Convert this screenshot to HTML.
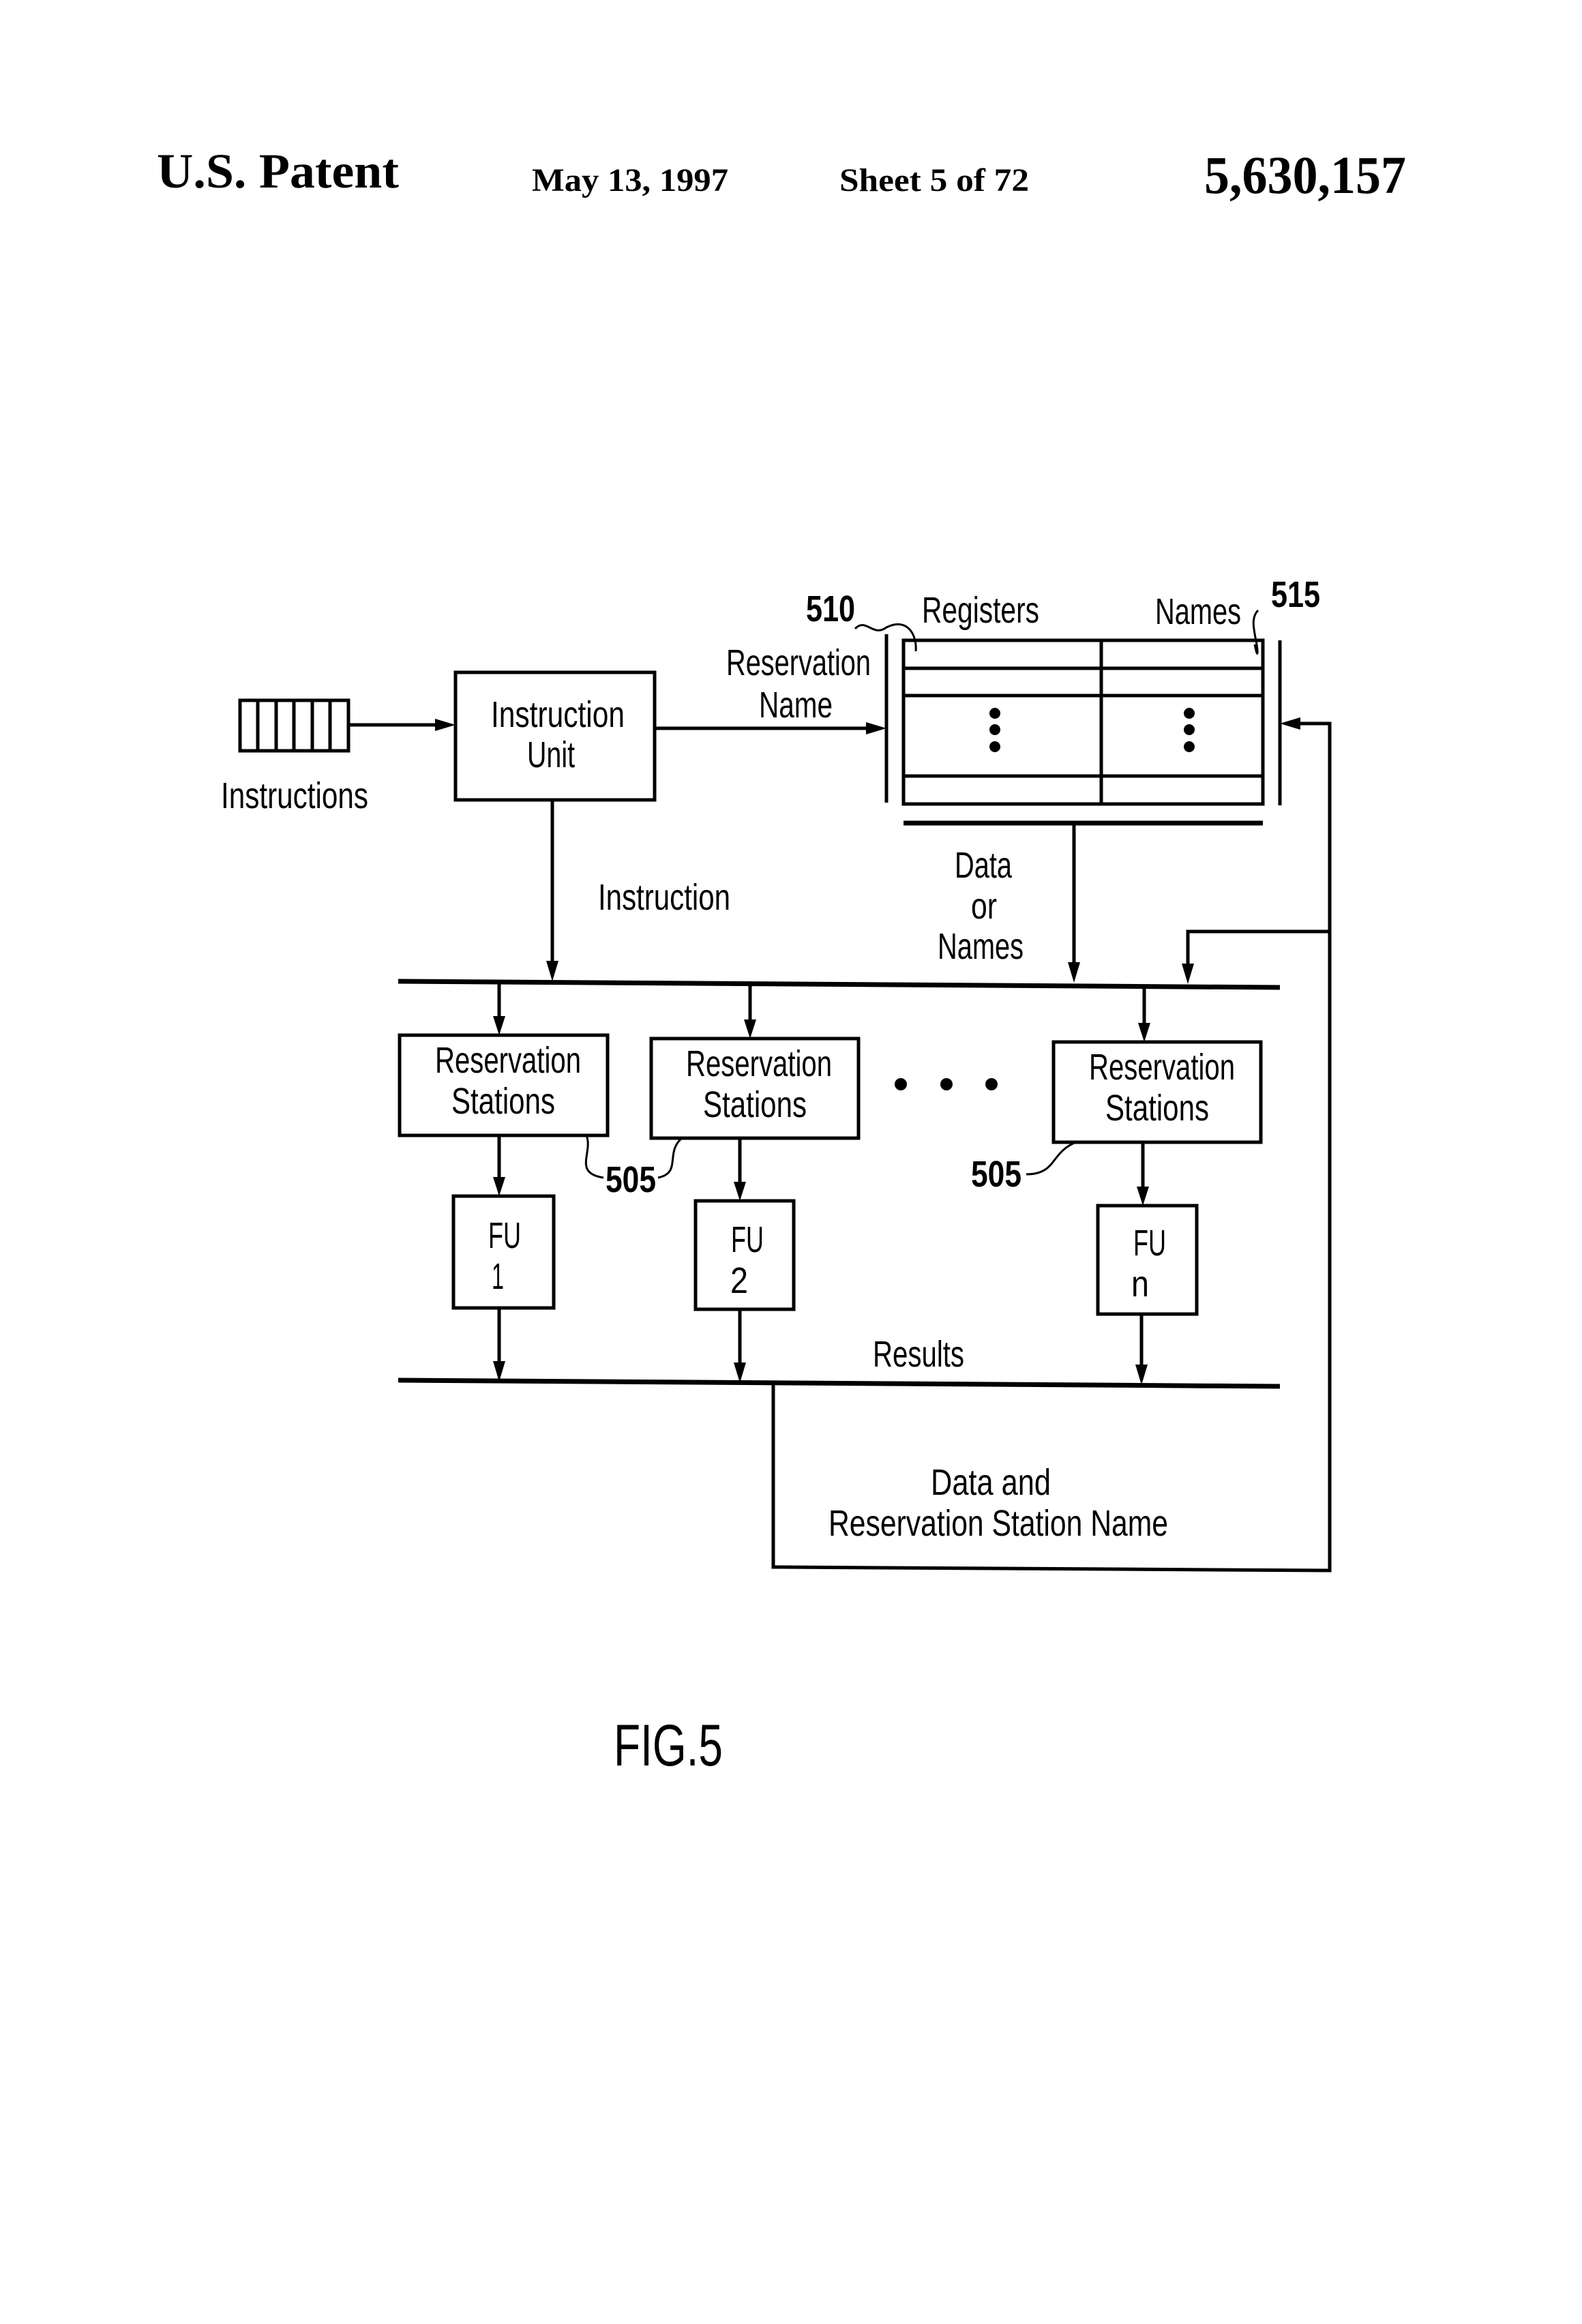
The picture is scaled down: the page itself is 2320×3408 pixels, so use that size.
<!DOCTYPE html>
<html><head><meta charset="utf-8"><style>
html,body{margin:0;padding:0;background:#fff;}
svg{display:block;}
.h{font-family:"Liberation Serif",serif;font-weight:bold;fill:#000;}
.t{font-family:"Liberation Sans",sans-serif;fill:#000;}
</style></head><body>
<svg width="2320" height="3408" viewBox="0 0 2320 3408" xmlns="http://www.w3.org/2000/svg">
<!-- header -->
<text class="h" x="230" y="275" font-size="72" textLength="355" lengthAdjust="spacingAndGlyphs">U.S. Patent</text>
<text class="h" x="780" y="280" font-size="48" textLength="288" lengthAdjust="spacingAndGlyphs">May 13, 1997</text>
<text class="h" x="1231" y="280" font-size="48" textLength="278" lengthAdjust="spacingAndGlyphs">Sheet 5 of 72</text>
<text class="h" x="1766" y="283" font-size="78" textLength="296" lengthAdjust="spacingAndGlyphs">5,630,157</text>

<g stroke="#000" fill="none" stroke-width="5">
<rect x="352" y="1027" width="159" height="74"/>
<line x1="378" y1="1027" x2="378" y2="1101"/>
<line x1="405" y1="1027" x2="405" y2="1101"/>
<line x1="431" y1="1027" x2="431" y2="1101"/>
<line x1="458" y1="1027" x2="458" y2="1101"/>
<line x1="484" y1="1027" x2="484" y2="1101"/>
<line x1="511" y1="1063" x2="650" y2="1063"/>
<rect x="668" y="986" width="292" height="187"/>
<line x1="960" y1="1068" x2="1282" y2="1068"/>
<line x1="1300" y1="930" x2="1300" y2="1177"/>
<line x1="1877" y1="939" x2="1877" y2="1181"/>
<rect x="1325" y="939" width="527" height="240"/>
<line x1="1325" y1="980" x2="1852" y2="980"/>
<line x1="1325" y1="1020" x2="1852" y2="1020"/>
<line x1="1325" y1="1138" x2="1852" y2="1138"/>
<line x1="1615" y1="939" x2="1615" y2="1179"/>
<line x1="1325" y1="1207" x2="1852" y2="1207" stroke-width="7"/>
<polyline points="1895,1061 1950,1061 1950,2303 1134,2298 1134,2030"/>
<polyline points="1950,1366 1742,1366 1742,1425"/>
<line x1="810" y1="1173" x2="810" y2="1420"/>
<line x1="1575" y1="1207" x2="1575" y2="1422"/>
<line x1="584" y1="1439" x2="1877" y2="1448" stroke-width="7"/>
<line x1="732" y1="1440" x2="732" y2="1500"/>
<line x1="1100" y1="1442" x2="1100" y2="1505"/>
<line x1="1678" y1="1446" x2="1678" y2="1510"/>
<rect x="586" y="1518" width="305" height="147"/>
<rect x="955" y="1523" width="304" height="146"/>
<rect x="1545" y="1528" width="304" height="147"/>
<line x1="732" y1="1665" x2="732" y2="1735"/>
<line x1="1085" y1="1669" x2="1085" y2="1743"/>
<line x1="1676" y1="1675" x2="1676" y2="1750"/>
<rect x="665" y="1754" width="147" height="164"/>
<rect x="1020" y="1761" width="144" height="159"/>
<rect x="1610" y="1768" width="145" height="159"/>
<line x1="732" y1="1918" x2="732" y2="2005"/>
<line x1="1085" y1="1920" x2="1085" y2="2008"/>
<line x1="1674" y1="1927" x2="1674" y2="2012"/>
<line x1="584" y1="2024" x2="1877" y2="2033" stroke-width="7"/>
<path d="M1254,922 C1270,905 1280,935 1300,920 C1330,905 1345,930 1343,955" stroke-width="3"/>
<path d="M1845,895 C1835,905 1838,920 1842,940 C1845,955 1845,970 1840,945" stroke-width="3"/>
<path d="M860,1665 C870,1690 840,1720 885,1727" stroke-width="3"/>
<path d="M965,1727 C1000,1720 975,1690 1000,1669" stroke-width="3"/>
<path d="M1505,1722 C1550,1722 1540,1690 1578,1675" stroke-width="3"/>
</g>
<g fill="#000">
<polygon points="668,1063 638,1054 638,1072"/>
<polygon points="1300,1068 1270,1059 1270,1077"/>
<polygon points="1877,1061 1907,1052 1907,1070"/>
<polygon points="810,1439 801,1409 819,1409"/>
<polygon points="1575,1441 1566,1411 1584,1411"/>
<polygon points="1742,1443 1733,1413 1751,1413"/>
<polygon points="732,1518 723,1490 741,1490"/>
<polygon points="1100,1523 1091,1495 1109,1495"/>
<polygon points="1678,1528 1669,1500 1687,1500"/>
<polygon points="732,1754 723,1726 741,1726"/>
<polygon points="1085,1761 1076,1733 1094,1733"/>
<polygon points="1676,1768 1667,1740 1685,1740"/>
<polygon points="732,2026 723,1996 741,1996"/>
<polygon points="1085,2028 1076,1998 1094,1998"/>
<polygon points="1674,2031 1665,2001 1683,2001"/>
<circle cx="1459" cy="1046" r="8"/><circle cx="1459" cy="1070" r="8"/><circle cx="1459" cy="1095" r="8"/>
<circle cx="1744" cy="1046" r="8"/><circle cx="1744" cy="1070" r="8"/><circle cx="1744" cy="1095" r="8"/>
<circle cx="1321" cy="1590" r="9"/><circle cx="1388" cy="1590" r="9"/><circle cx="1454" cy="1590" r="9"/>
</g>
<g class="t" font-size="54" text-anchor="middle">
<text x="432" y="1185" textLength="216" lengthAdjust="spacingAndGlyphs">Instructions</text>
<text x="818" y="1066" textLength="196" lengthAdjust="spacingAndGlyphs">Instruction</text>
<text x="808" y="1125" textLength="70" lengthAdjust="spacingAndGlyphs">Unit</text>
<text x="1171" y="990" textLength="212" lengthAdjust="spacingAndGlyphs">Reservation</text>
<text x="1167" y="1052" textLength="108" lengthAdjust="spacingAndGlyphs">Name</text>
<text x="1218" y="911" font-weight="bold" textLength="72" lengthAdjust="spacingAndGlyphs">510</text>
<text x="1438" y="913" textLength="172" lengthAdjust="spacingAndGlyphs">Registers</text>
<text x="1757" y="915" textLength="126" lengthAdjust="spacingAndGlyphs">Names</text>
<text x="1900" y="890" font-weight="bold" textLength="72" lengthAdjust="spacingAndGlyphs">515</text>
<text x="974" y="1334" textLength="194" lengthAdjust="spacingAndGlyphs">Instruction</text>
<text x="1442" y="1287" textLength="84" lengthAdjust="spacingAndGlyphs">Data</text>
<text x="1443" y="1347" textLength="38" lengthAdjust="spacingAndGlyphs">or</text>
<text x="1438" y="1406" textLength="126" lengthAdjust="spacingAndGlyphs">Names</text>
<text x="745" y="1573" textLength="214" lengthAdjust="spacingAndGlyphs">Reservation</text>
<text x="738" y="1633" textLength="152" lengthAdjust="spacingAndGlyphs">Stations</text>
<text x="1113" y="1578" textLength="214" lengthAdjust="spacingAndGlyphs">Reservation</text>
<text x="1107" y="1638" textLength="152" lengthAdjust="spacingAndGlyphs">Stations</text>
<text x="1704" y="1583" textLength="214" lengthAdjust="spacingAndGlyphs">Reservation</text>
<text x="1697" y="1643" textLength="152" lengthAdjust="spacingAndGlyphs">Stations</text>
<text x="925" y="1748" font-weight="bold" textLength="74" lengthAdjust="spacingAndGlyphs">505</text>
<text x="1461" y="1740" font-weight="bold" textLength="74" lengthAdjust="spacingAndGlyphs">505</text>
<text x="740" y="1830" textLength="48" lengthAdjust="spacingAndGlyphs">FU</text>
<text x="730" y="1890" textLength="18" lengthAdjust="spacingAndGlyphs">1</text>
<text x="1096" y="1836" textLength="48" lengthAdjust="spacingAndGlyphs">FU</text>
<text x="1084" y="1896" textLength="26" lengthAdjust="spacingAndGlyphs">2</text>
<text x="1686" y="1841" textLength="48" lengthAdjust="spacingAndGlyphs">FU</text>
<text x="1672" y="1901" textLength="26" lengthAdjust="spacingAndGlyphs">n</text>
<text x="1347" y="2004" textLength="134" lengthAdjust="spacingAndGlyphs">Results</text>
<text x="1453" y="2192" textLength="176" lengthAdjust="spacingAndGlyphs">Data  and</text>
<text x="1464" y="2252" textLength="498" lengthAdjust="spacingAndGlyphs">Reservation  Station  Name</text>
<text x="980" y="2589" font-size="86" textLength="160" lengthAdjust="spacingAndGlyphs">FIG.5</text>
</g>
</svg>
</body></html>
